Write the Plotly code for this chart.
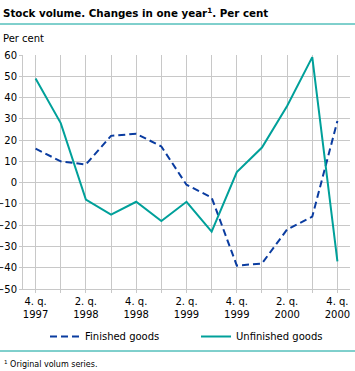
import plotly.graph_objects as go

quarters = ["4. q. 1997", "1. q. 1998", "2. q. 1998", "3. q. 1998", "4. q. 1998",
            "1. q. 1999", "2. q. 1999", "3. q. 1999", "4. q. 1999",
            "1. q. 2000", "2. q. 2000", "3. q. 2000", "4. q. 2000"]
finished = [16, 10, 8.5, 22, 23, 17, -1, -7, -39, -38, -22, -16, 29]
unfinished = [49, 28, -8, -15, -9, -18, -9, -23, 5, 16.5, 36, 59, -37]
tick_labels = ["4. q.<br>1997", "2. q.<br>1998", "4. q.<br>1998", "2. q.<br>1999",
               "4. q.<br>1999", "2. q.<br>2000", "4. q.<br>2000"]
y_ticks = [-50, -40, -30, -20, -10, 0, 10, 20, 30, 40, 50, 60]

BLUE = "#0a3ca0"
TEAL = "#00a09a"
GRID = "#c8c8c8"
FONT = "DejaVu Sans"

x_idx = list(range(len(quarters)))
label_idx = x_idx[::2]

fig = go.Figure()
fig.add_trace(go.Scatter(x=x_idx, y=finished, mode="lines", name="Finished goods",
                         line=dict(color=BLUE, width=2, dash="7px,4px"), legend="legend"))
fig.add_trace(go.Scatter(x=x_idx, y=unfinished, mode="lines", name="Unfinished goods",
                         line=dict(color=TEAL, width=2), legend="legend2"))

PW = 327.0
PH = 234.0

leg_common = dict(orientation="h", xanchor="left", yanchor="top",
                  bgcolor="rgba(0,0,0,0)", font=dict(size=10), itemwidth=30)

fig.update_layout(
    width=355, height=371,
    margin=dict(l=23, r=5, t=55, b=82, autoexpand=False),
    paper_bgcolor="white", plot_bgcolor="white",
    font=dict(family=FONT, size=10, color="black"),
    showlegend=True,
    legend=dict(x=(45 - 23) / PW, y=(289 - 322) / PH, **leg_common),
    legend2=dict(x=(196 - 23) / PW, y=(289 - 322) / PH, **leg_common),
    xaxis=dict(range=[-0.5, 12.5], tickmode="array", tickvals=label_idx, ticktext=tick_labels,
               showgrid=True, gridcolor=GRID, gridwidth=1,
               ticks="outside", ticklen=3, tickcolor=GRID,
               minor=dict(tick0=0, dtick=1, showgrid=True, gridcolor=GRID, gridwidth=1,
                          ticks="outside", ticklen=3, tickcolor=GRID),
               showline=True, linecolor=GRID, zeroline=False, automargin=False,
               tickfont=dict(size=10)),
    yaxis=dict(range=[-50, 60], tickmode="array", tickvals=y_ticks,
               showgrid=True, gridcolor=GRID, gridwidth=1,
               ticks="outside", ticklen=3, tickcolor=GRID,
               showline=True, linecolor=GRID, zeroline=False, automargin=False,
               tickfont=dict(size=10)),
    annotations=[
        dict(text="<b>Stock volume. Changes in one year<sup>1</sup>. Per cent</b>",
             xref="paper", yref="paper", x=-22 / PW, y=(289 - 4) / PH,
             xanchor="left", yanchor="top",
             showarrow=False, font=dict(size=10.3, family=FONT)),
        dict(text="Per cent", xref="paper", yref="paper", x=-22 / PW, y=(289 - 31) / PH,
             xanchor="left", yanchor="top", showarrow=False, font=dict(size=10, family=FONT)),
        dict(text="<sup>1</sup> Original volum series.", xref="paper", yref="paper",
             x=-21 / PW, y=(289 - 357) / PH, xanchor="left", yanchor="top", showarrow=False,
             font=dict(size=8, family=FONT)),
    ],
    shapes=[
        dict(type="line", xref="paper", yref="paper", x0=-23 / PW, x1=332 / PW,
             y0=(289 - 24) / PH, y1=(289 - 24) / PH, line=dict(color=TEAL, width=1)),
        dict(type="line", xref="paper", yref="paper", x0=-23 / PW, x1=332 / PW,
             y0=(289 - 351) / PH, y1=(289 - 351) / PH, line=dict(color=TEAL, width=1)),
    ],
)

fig.write_html("out.html", config={"displayModeBar": False},
               post_script="document.body.style.margin='0';document.body.style.overflow='hidden';")
